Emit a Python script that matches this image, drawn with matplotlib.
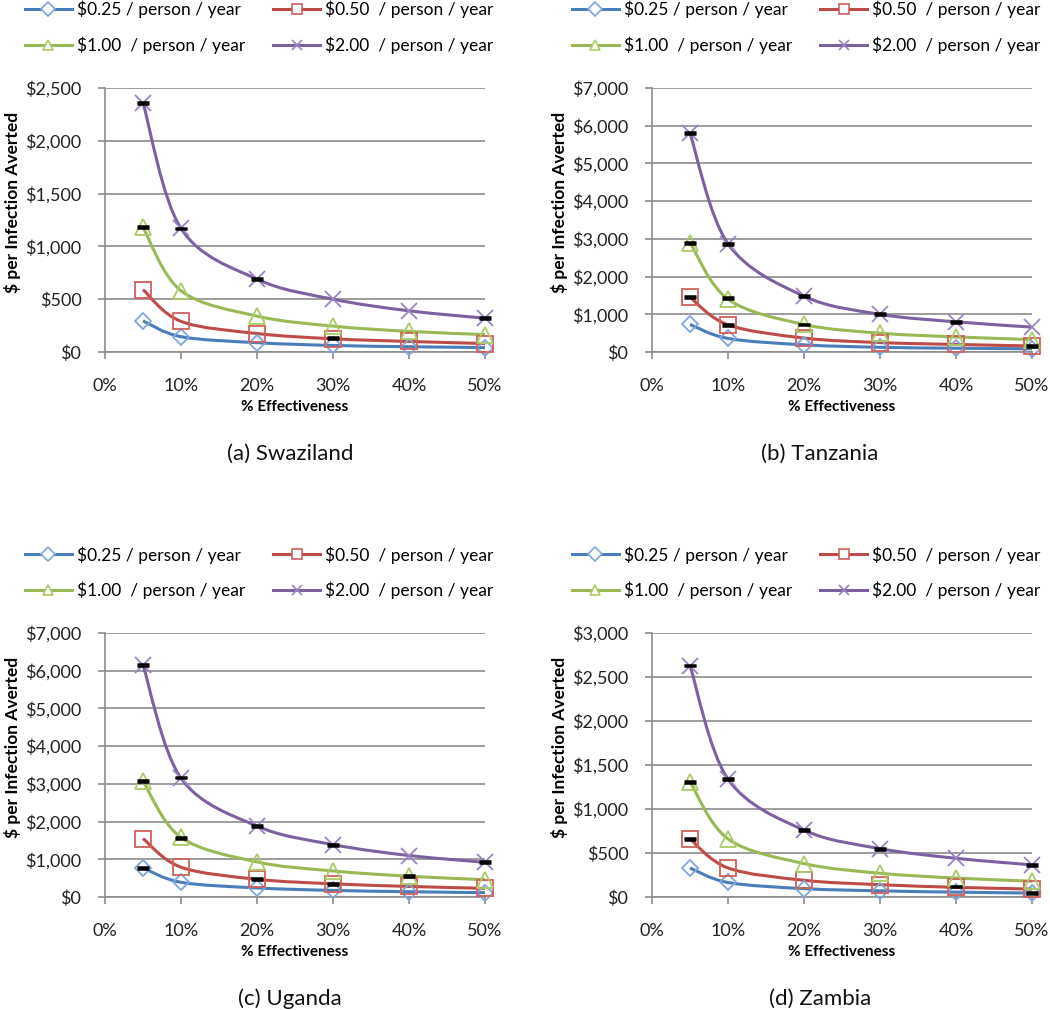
import numpy as np
import matplotlib
matplotlib.use("Agg")
import matplotlib.pyplot as plt
from matplotlib.path import Path
from matplotlib.patches import PathPatch
from matplotlib.lines import Line2D
from matplotlib.ticker import FuncFormatter, MultipleLocator

plt.rcParams['font.family'] = ['Lato', 'DejaVu Sans']

# ---------------- data ----------------
effectiveness = [5, 10, 20, 30, 40, 50]  # %
series_labels = ["$0.25 / person / year", "$0.50  / person / year",
                 "$1.00  / person / year", "$2.00  / person / year"]

swaziland_025 = [295, 145, 88, 62, 50, 42]
swaziland_050 = [590, 290, 175, 125, 100, 80]
swaziland_100 = [1180, 580, 340, 245, 195, 165]
swaziland_200 = [2360, 1170, 690, 500, 390, 320]

tanzania_025 = [730, 360, 190, 125, 100, 85]
tanzania_050 = [1450, 720, 370, 250, 200, 160]
tanzania_100 = [2900, 1400, 730, 500, 400, 330]
tanzania_200 = [5800, 2870, 1480, 1000, 800, 660]

uganda_025 = [770, 390, 240, 175, 140, 115]
uganda_050 = [1550, 790, 470, 350, 280, 230]
uganda_100 = [3070, 1580, 930, 690, 550, 460]
uganda_200 = [6150, 3150, 1880, 1390, 1100, 920]

zambia_025 = [330, 165, 95, 70, 55, 45]
zambia_050 = [660, 330, 190, 140, 110, 90]
zambia_100 = [1310, 660, 380, 270, 215, 180]
zambia_200 = [2630, 1340, 760, 550, 440, 365]

# small error-bar marks: (series index, effectiveness, value)
swaziland_err = [(3, 5, 2360), (3, 10, 1170), (3, 20, 690), (3, 50, 320), (2, 5, 1180), (1, 30, 130)]
tanzania_err = [(3, 5, 5800), (3, 10, 2870), (3, 20, 1480), (3, 30, 1000), (3, 40, 800),
                (2, 5, 2900), (2, 10, 1430), (2, 20, 730), (1, 5, 1460), (1, 10, 720), (0, 50, 150)]
uganda_err = [(3, 5, 6150), (3, 10, 3170), (3, 20, 1880), (3, 30, 1390), (3, 50, 920),
              (2, 5, 3070), (2, 10, 1570), (2, 40, 560), (1, 20, 480), (1, 30, 340), (0, 5, 770)]
zambia_err = [(3, 5, 2630), (3, 10, 1340), (3, 20, 760), (3, 30, 550), (3, 50, 365),
              (2, 5, 1310), (1, 5, 660), (1, 40, 120), (0, 50, 50)]

panels = [
    ("(a) Swaziland", [swaziland_025, swaziland_050, swaziland_100, swaziland_200], 2500, 500, swaziland_err),
    ("(b) Tanzania", [tanzania_025, tanzania_050, tanzania_100, tanzania_200], 7000, 1000, tanzania_err),
    ("(c) Uganda", [uganda_025, uganda_050, uganda_100, uganda_200], 7000, 1000, uganda_err),
    ("(d) Zambia", [zambia_025, zambia_050, zambia_100, zambia_200], 3000, 500, zambia_err),
]

line_colors = ["#4A7EBB", "#BE4B48", "#98B954", "#7D60A0"]
marker_colors = ["#7FA6DC", "#D0605C", "#A9CC66", "#9A83C2"]
markers = ["D", "s", "^", "x"]
marker_sizes = [8, 11, 11, 11]

W, H = 1050, 1010
fig = plt.figure(figsize=(W / 100, H / 100), dpi=100)


def px_axes(x0, x1, ytop, ybot):
    return fig.add_axes([x0 / W, 1 - ybot / H, (x1 - x0) / W, (ybot - ytop) / H])


def smooth_path(xs, ys):
    # Catmull-Rom style bezier (Excel "smoothed line")
    pts = np.column_stack([xs, ys]).astype(float)
    n = len(pts)
    verts = [pts[0]]
    codes = [Path.MOVETO]
    for i in range(n - 1):
        p0 = pts[i - 1] if i > 0 else pts[i]
        p1 = pts[i]
        p2 = pts[i + 1]
        p3 = pts[i + 2] if i + 2 < n else pts[i + 1]
        c1 = p1 + (p2 - p0) / 6.0
        c2 = p2 - (p3 - p1) / 6.0
        verts += [c1, c2, p2]
        codes += [Path.CURVE4] * 3
    return Path(verts, codes)


layout = [
    (105, 485, 88, 352, 0, 290),
    (652, 1032, 88, 352, 0, 820),
    (105, 485, 633, 897, 545, 290),
    (652, 1032, 633, 897, 545, 820),
]

money = FuncFormatter(lambda v, p: "${:,.0f}".format(v))
pct = FuncFormatter(lambda v, p: "{:.0f}%".format(v))

for (title, data, ymax, ystep, errs), (x0, x1, yt, yb, legy, cx) in zip(panels, layout):
    ax = px_axes(x0, x1, yt, yb)
    ax.set_xlim(0, 50)
    ax.set_ylim(0, ymax)
    ax.yaxis.set_major_locator(MultipleLocator(ystep))
    ax.xaxis.set_major_locator(MultipleLocator(10))
    ax.yaxis.set_major_formatter(money)
    ax.xaxis.set_major_formatter(pct)
    ax.grid(axis='y', color='#8C8C8C', linewidth=1.2)
    ax.set_axisbelow(True)
    for s in ['top', 'right']:
        ax.spines[s].set_visible(False)
    for s in ['left', 'bottom']:
        ax.spines[s].set_color('#8C8C8C')
        ax.spines[s].set_linewidth(1.2)
    ax.tick_params(axis='both', colors='#8C8C8C', labelcolor='#222222', labelsize=13,
                   length=5, width=1.2, direction='out')
    ax.tick_params(axis='x', pad=14)
    ax.tick_params(axis='y', pad=12)

    handles = []
    for i, ys in enumerate(data):
        patch = PathPatch(smooth_path(effectiveness, ys), facecolor='none',
                          edgecolor=line_colors[i], linewidth=2.2, zorder=3)
        ax.add_patch(patch)
        if markers[i] == 'x':
            ax.plot(effectiveness, ys, linestyle='none', marker='x', markersize=marker_sizes[i],
                    markeredgecolor=marker_colors[i], markeredgewidth=1.3, zorder=4, clip_on=False)
        else:
            ax.plot(effectiveness, ys, linestyle='none', marker=markers[i], markersize=marker_sizes[i],
                    markerfacecolor='none', markeredgecolor=marker_colors[i], markeredgewidth=1.3,
                    zorder=4, clip_on=False)
        handles.append(Line2D([], [], color=line_colors[i], linewidth=2.2, marker=markers[i],
                              markersize=7, markerfacecolor='white' if markers[i] != 'x' else 'none',
                              markeredgecolor=marker_colors[i], markeredgewidth=1.2))

    # small black error bar caps
    half = ymax * 0.0035
    ex = [e[1] for e in errs]
    ey = [e[2] for e in errs]
    ax.errorbar(ex, ey, yerr=half, fmt='none', ecolor='black', elinewidth=1.2,
                capsize=4.5, capthick=1.8, zorder=5, clip_on=False)

    ax.set_ylabel("$ per Infection Averted", fontsize=12.5, fontweight='bold')
    ax.yaxis.set_label_coords(-0.222, 0.565)
    ax.set_xlabel("% Effectiveness", fontsize=11, fontweight='bold', labelpad=4)

    order = [0, 2, 1, 3]
    fig.legend([handles[k] for k in order], [series_labels[k] for k in order],
               loc='upper left', bbox_to_anchor=((x0 - 80) / W, 1 - (legy + 1) / H),
               ncol=2, frameon=False, fontsize=12.5, handlelength=2.7, handletextpad=0.3,
               columnspacing=1.6, labelspacing=1.05, borderaxespad=0, borderpad=0)

    fig.text(cx / W, 1 - (yb + 102) / H, title, fontsize=16, ha='center', va='center', color='#111111')

fig.savefig("out.png", dpi=100)
